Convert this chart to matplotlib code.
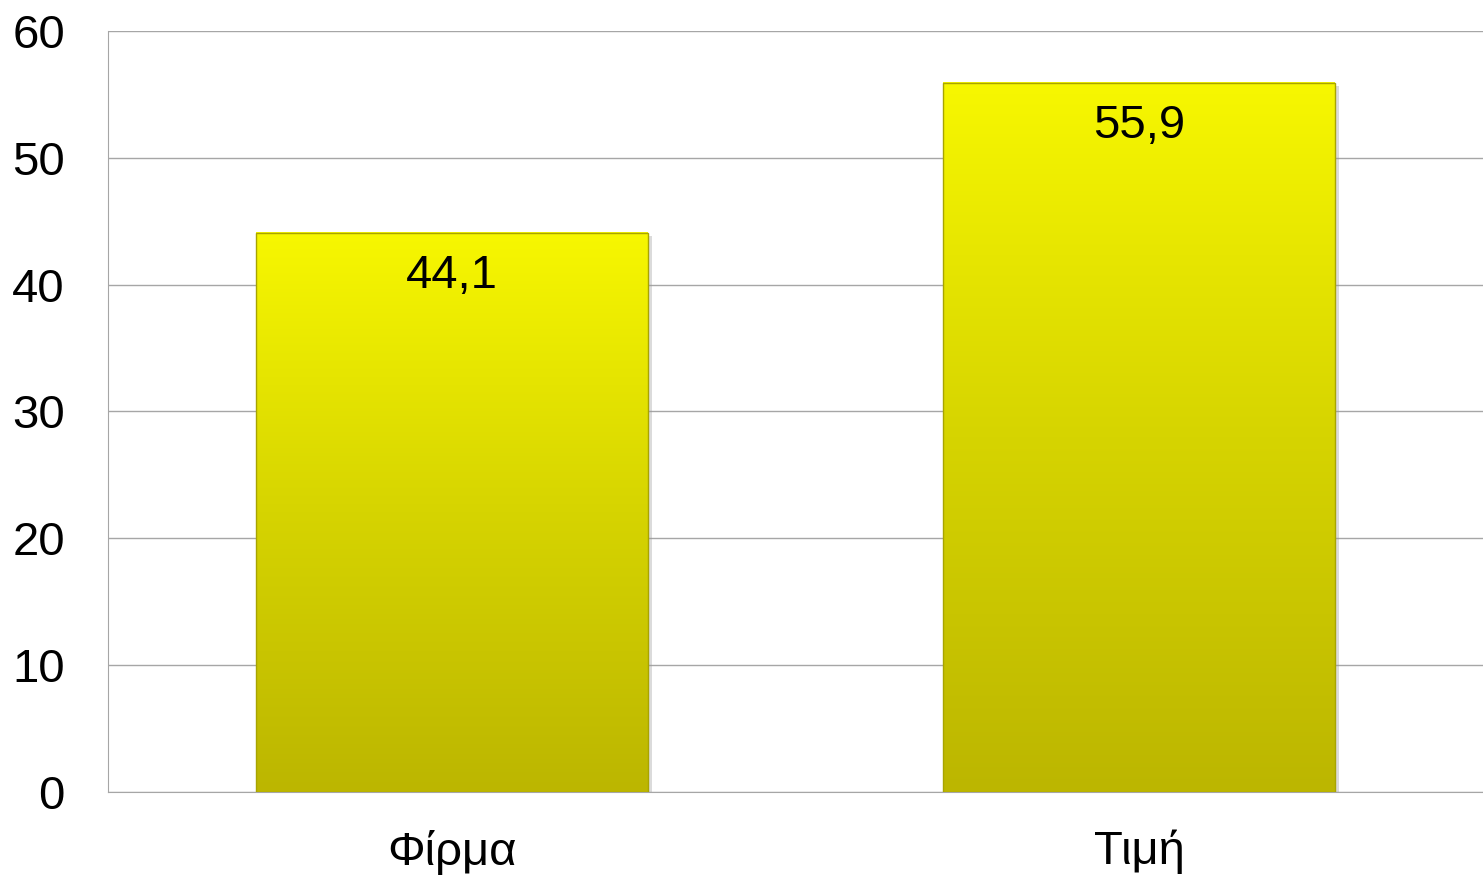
import numpy as np
import matplotlib
matplotlib.use('Agg')
import matplotlib.pyplot as plt
from matplotlib.colors import LinearSegmentedColormap

categories = ['Φίρμα', 'Τιμή']
values = [44.1, 55.9]
value_labels = ['44,1', '55,9']
yticks = [0, 10, 20, 30, 40, 50, 60]

plt.rcParams['font.family'] = ['Liberation Sans', 'DejaVu Sans']

fig = plt.figure(figsize=(14.83, 8.77), dpi=100)
ax = fig.add_axes([0.0728, 0.0969, 0.9272, 0.8678])

x = np.arange(len(categories))
bars = ax.bar(x, values, width=0.57, color='none', edgecolor='none', zorder=3)

# vertical gradient fill for each bar
cmap = LinearSegmentedColormap.from_list('yel', ['#bcb600', '#d6d400', '#f7f700'])
grad = np.linspace(0, 1, 256).reshape(-1, 1)
for b in bars:
    x0, w, h = b.get_x(), b.get_width(), b.get_height()
    # soft shadow
    ax.bar(x0 + w / 2 + 0.006, h, width=w, bottom=-0.25, color='#999999',
           alpha=0.35, zorder=2)
    ax.imshow(grad, extent=[x0, x0 + w, 0, h], origin='lower', aspect='auto',
              cmap=cmap, zorder=3, interpolation='bicubic')
    ax.bar(x0 + w / 2, h, width=w, color='none', edgecolor='#a8a400',
           linewidth=1.0, zorder=4)

for xi, v, lab in zip(x, values, value_labels):
    ax.text(xi, v - 3.4, lab, ha='center', va='center', fontsize=34, zorder=5)

ax.set_xlim(-0.5, 1.5)
ax.set_ylim(0, 60)
ax.set_yticks(yticks)
ax.set_xticks(x)
ax.set_xticklabels(categories)
ax.tick_params(axis='y', labelsize=34, length=0, pad=31)
ax.tick_params(axis='x', labelsize=34, length=0, pad=27)
for t in ax.get_yticklabels():
    t.set_y(0)
ax.grid(axis='y', color='#a6a6a6', linewidth=1.0, zorder=0)
ax.set_axisbelow(True)
for s in ['top', 'right']:
    ax.spines[s].set_visible(False)
ax.spines['left'].set_color('#a6a6a6')
ax.spines['bottom'].set_color('#a6a6a6')

fig.savefig('out.png', dpi=100)
